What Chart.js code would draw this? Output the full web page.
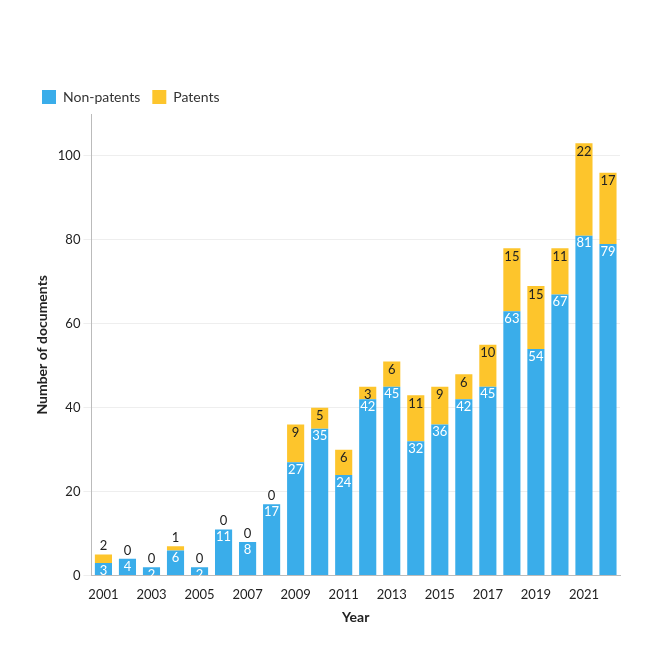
<!DOCTYPE html><html><head><script src="https://cdn.jsdelivr.net/npm/chart.js"></script>
<style>body{margin:0;background:#fff}#w{width:660px;height:660px}</style></head><body><div id="w"><canvas id="c"></canvas></div>
<script>
const years=["2001","2002","2003","2004","2005","2006","2007","2008","2009","2010","2011","2012","2013","2014","2015","2016","2017","2018","2019","2020","2021","2022"];
const nonPatents=[3,4,2,6,2,11,8,17,27,35,24,42,45,32,36,42,45,63,54,67,81,79];
const patents=[2,0,0,1,0,0,0,0,9,5,6,3,6,11,9,6,10,15,15,11,22,17];
const labelPlugin={id:'lbl',afterDatasetsDraw(ch){const ctx=ch.ctx;const m0=ch.getDatasetMeta(0),m1=ch.getDatasetMeta(1);ctx.save();ctx.font='13px Lato';ctx.textAlign='center';
m0.data.forEach((b,i)=>{ctx.fillStyle='#fff';ctx.textBaseline='top';ctx.fillText(nonPatents[i],b.x,b.y+1);});
m1.data.forEach((b,i)=>{ctx.fillStyle='#222';const v=patents[i];if(v>=3){ctx.textBaseline='top';ctx.fillText(v,b.x,b.y+2);}else{ctx.textBaseline='bottom';ctx.fillText(v,b.x,b.y-2);}});ctx.restore();}};
new Chart(document.getElementById('c'),{type:'bar',data:{labels:years,datasets:[
{label:'Non-patents',data:nonPatents,backgroundColor:'#3aadea',barPercentage:0.75,categoryPercentage:0.95},
{label:'Patents',data:patents,backgroundColor:'#fdc52c',barPercentage:0.75,categoryPercentage:0.95}]},
options:{responsive:true,maintainAspectRatio:false,animation:false,
layout:{padding:{left:30,right:40,top:78,bottom:30}},
plugins:{legend:{position:'top',align:'start',labels:{boxWidth:14,boxHeight:14,font:{family:'Lato',size:14},color:'#333',padding:12}},tooltip:{enabled:false}},
scales:{x:{stacked:true,grid:{display:false,drawTicks:true},border:{color:'#bbb'},ticks:{autoSkip:false,maxRotation:0,color:'#222',font:{family:'Lato',size:13},callback:(v,i)=>i%2===0?years[i]:''},title:{display:true,text:'Year',font:{family:'Lato',size:14,weight:'bold'},color:'#222'}},
y:{stacked:true,min:0,max:110,ticks:{stepSize:10,color:'#222',font:{family:'Lato',size:13},callback:v=>v%20===0?v:''},grid:{color:c=>c.tick.value%20===0?'#eeeeee':'rgba(0,0,0,0)'},border:{color:'#bbb'},title:{display:true,text:'Number of documents',font:{family:'Lato',size:14,weight:'bold'},color:'#222'}}}},
plugins:[labelPlugin]});
</script></body></html>
